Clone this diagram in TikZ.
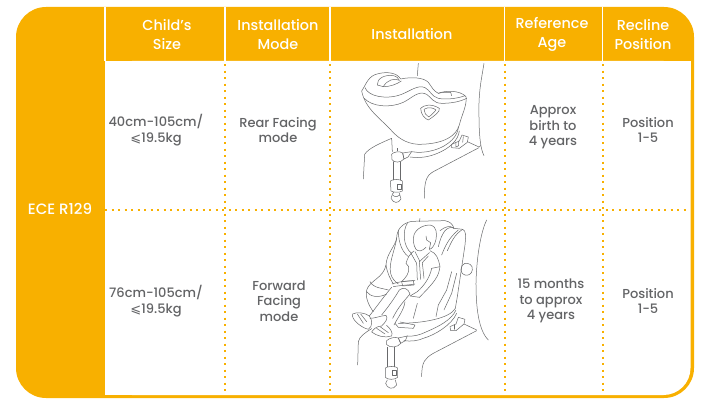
\documentclass[tikz,border=0pt]{standalone}
\usepackage{fontspec}
\setmainfont{Poppins}[UprightFont=* Medium]
\newfontfamily\symbfont{DejaVu Sans}
\definecolor{seatorange}{HTML}{F8B000}
\definecolor{textgrey}{HTML}{636466}
\definecolor{inkgrey}{HTML}{68696B}
\newcommand{\lessq}{{\symbfont\char"2A7D}}
\tikzset{
  headcell/.style={text=white, font=\fontsize{14.4}{19}\selectfont, align=center, inner sep=0pt},
  bodycell/.style={text=textgrey, font=\fontsize{13}{15.5}\selectfont, align=center, inner sep=0pt},
  griddot/.style={seatorange, line width=2pt, dash pattern=on 2pt off 4.5pt},
  gridwhite/.style={white, line width=1.4pt},
  ink/.style={inkgrey, line width=0.5pt, line join=round, line cap=round},
}

\begin{document}
\begin{tikzpicture}[x=1pt, y=-1pt]
\useasboundingbox (0,0) rectangle (706,412);
% panel
\fill[seatorange, rounded corners=30pt] (16,7) rectangle (694,398);
\fill[white, rounded corners=27pt] (105,61) -| (690.5,395) -- (105,395) -- cycle;
\fill[white] (105,61) rectangle (130,395);
\fill[white] (105,61) rectangle (690.5,90);

% header
\node[headcell] (size) at (167,34.5) {Child's\\Size};
\node[headcell] (mode) at (278,34.5) {Installation\\Mode};
\node[headcell] (inst) at (412,34) {Installation};
\node[headcell] (age) at (552,34.5) {Reference\\Age};
\node[headcell] (recline) at (643,34.5) {Recline\\Position};
\node[headcell, font=\fontsize{15}{16}\selectfont] (ece) at (60,209) {ECE R129};

% first row
\node[bodycell] (sizea) at (156,130) {40cm-105cm/\\\lessq19.5kg};
\node[bodycell] (modea) at (278,130) {Rear Facing\\mode};
\node[bodycell] (agea) at (553,127.5) {Approx\\birth to\\4 years};
\node[bodycell] (reca) at (648,130) {Position\\1-5};

% second row
\node[bodycell] (sizeb) at (156,301) {76cm-105cm/\\\lessq19.5kg};
\node[bodycell] (modeb) at (279,301) {Forward\\Facing\\mode};
\node[bodycell] (ageb) at (551,301) {15 months\\to approx\\4 years};
\node[bodycell] (recb) at (648,301) {Position\\1-5};

% grid
\draw[gridwhite] (105,7) -- (105,61);
\draw[gridwhite] (225,7) -- (225,61);
\draw[gridwhite] (330,7) -- (330,61);
\draw[gridwhite] (504.5,7) -- (504.5,61);
\draw[gridwhite] (602.5,7) -- (602.5,61);
\draw[griddot] (225,64) -- (225,395);
\draw[griddot] (330,64) -- (330,395);
\draw[griddot] (504.5,64) -- (504.5,395);
\draw[griddot] (602.5,64) -- (602.5,395);
\draw[griddot] (105,209.5) -- (690,209.5);

% rear facing seat
\begin{scope}[shift={(330,55)}, x=0.3333pt, y=-0.3333pt, ink]
\draw (265,25) -- (262,62);
\draw (462,25) .. controls (455,70) and (445,110) .. (447,180) .. controls (447,230) and (450,280) .. (462,302);
\draw (185,250) .. controls (150,265) and (115,280) .. (104,298) -- (100,372);
\draw (447,278) -- (310,350) .. controls (290,362) and (283,375) .. (283,430);
% shell
\draw (95,108) .. controls (110,85) and (115,62) .. (145,56) .. controls (170,50) and (200,52) .. (212,72) .. controls (240,66) and (280,66) .. (295,82) .. controls (305,95) and (310,108) .. (325,115) .. controls (345,106) and (390,105) .. (408,125) .. controls (412,150) and (395,180) .. (388,210) .. controls (380,240) and (345,268) .. (265,268) .. controls (225,266) and (200,245) .. (180,222) .. controls (150,190) and (105,160) .. (95,108) -- cycle;
\draw (105,98) .. controls (115,125) and (170,135) .. (215,118) .. controls (240,108) and (265,88) .. (285,98) .. controls (300,105) and (305,125) .. (325,130) .. controls (350,135) and (385,130) .. (405,122);
\draw (103,130) .. controls (125,155) and (180,160) .. (220,142) .. controls (245,130) and (265,105) .. (290,118) .. controls (305,128) and (310,145) .. (335,145) .. controls (365,145) and (390,140) .. (410,130);
\draw (142,90) .. controls (140,70) and (165,58) .. (190,62) .. controls (200,64) and (206,70) .. (208,76);
\draw (160,95) .. controls (170,75) and (195,68) .. (208,76);
\draw (142,90) -- (160,95) .. controls (180,95) and (200,88) .. (214,78);
\draw (325,115) .. controls (335,112) and (350,112) .. (362,112) -- (365,122);
% handle
\draw (272,160) .. controls (280,150) and (305,145) .. (328,160) .. controls (332,170) and (310,185) .. (295,195) .. controls (285,192) and (272,178) .. (272,160) -- cycle;
\draw (282,163) .. controls (295,155) and (310,158) .. (318,165) .. controls (310,175) and (302,182) .. (296,186) .. controls (288,182) and (282,172) .. (282,163) -- cycle;
% base
\draw (385,215) .. controls (385,240) and (360,272) .. (310,286) .. controls (290,292) and (265,294) .. (245,290);
\draw (388,228) .. controls (385,255) and (360,280) .. (320,296) .. controls (295,306) and (270,310) .. (240,306);
\draw (185,250) -- (187,290);
\draw (245,290) -- (234,306) -- (222,312) -- (218,294) -- (245,290);
\draw (185,298) .. controls (190,290) and (210,288) .. (218,294) -- (222,312) .. controls (212,324) and (192,324) .. (186,314) -- cycle;
\draw (203,288) -- (203,280);
% leg
\draw (189,320) -- (189,375);
\draw (211,320) -- (211,375);
\draw (181,378) .. controls (188,372) and (210,372) .. (217,378) -- (217,408) .. controls (208,414) and (188,412) .. (183,408) -- cycle;
\draw (203,388) -- (214,388) -- (214,402) -- (203,402) -- cycle;
\draw (191,412) -- (187,418) -- (183,430) .. controls (190,445) and (205,447) .. (213,432) -- (208,415);
\draw (188,420) .. controls (195,428) and (205,426) .. (210,420);
% latch
\draw (365,268) -- (388,258) -- (396,240) -- (415,246) -- (412,262) -- (388,280) -- (365,278) -- cycle;
\draw (378,262) -- (378,276) -- (386,272) -- (386,258);
\draw (400,245) -- (398,262);
\draw (412,260) -- (447,276) -- (452,272);
\end{scope}

% forward facing seat
\begin{scope}[shift={(330,210)}, x=0.3333pt, y=-0.3333pt, ink]
\draw (270,25) -- (268,35);
\draw (470,30) .. controls (455,60) and (440,130) .. (438,220) .. controls (438,290) and (445,360) .. (475,390);
\draw (125,356) .. controls (105,368) and (88,380) .. (85,395) -- (83,465);
\draw (440,362) -- (310,430) .. controls (285,445) and (275,455) .. (275,500);
% shell
\draw (130,305) .. controls (115,285) and (105,260) .. (110,240) .. controls (120,210) and (160,205) .. (168,165) .. controls (170,130) and (195,110) .. (200,85) .. controls (200,60) and (215,40) .. (245,34) -- (345,32) .. controls (360,35) and (368,42) .. (372,55) -- (398,58) .. controls (408,62) and (408,75) .. (405,105) -- (382,260) -- (376,295) .. controls (360,325) and (280,340) .. (205,340);
\draw (205,60) .. controls (205,85) and (210,120) .. (235,140);
\draw (232,40) .. controls (218,60) and (218,110) .. (245,130);
\draw (200,85) .. controls (195,120) and (175,160) .. (182,190) .. controls (185,205) and (195,215) .. (205,222);
\draw (168,165) .. controls (172,190) and (180,205) .. (190,222);
\draw (120,215) .. controls (130,235) and (160,235) .. (175,240);
\draw (110,245) .. controls (120,260) and (145,265) .. (170,252);
\draw (330,62) .. controls (345,50) and (360,45) .. (372,55);
\draw (325,110) .. controls (330,90) and (335,75) .. (345,62) .. controls (355,52) and (365,50) .. (372,55);
\draw (335,135) .. controls (345,110) and (355,85) .. (385,60);
\draw (352,122) .. controls (365,95) and (372,75) .. (398,58);
% side band
\draw (380,190) -- (365,250) -- (342,300);
\draw (365,185) -- (350,240) -- (325,285) -- (318,320);
\draw (262,280) -- (250,325);
% child head
\draw (252,75) .. controls (258,55) and (285,42) .. (305,46) .. controls (318,50) and (322,70) .. (318,88) .. controls (315,105) and (305,118) .. (298,118);
\draw (252,75) .. controls (248,90) and (250,105) .. (258,118) .. controls (265,125) and (275,125) .. (288,112);
\draw (288,78) -- (290,90) -- (302,98) -- (298,118);
% child torso
\draw (252,123) .. controls (240,130) and (232,145) .. (228,160);
\draw (300,122) .. controls (320,130) and (325,145) .. (330,170) -- (328,180);
\draw (228,160) -- (236,170) .. controls (240,190) and (225,205) .. (215,215);
\draw (330,170) -- (305,175);
\draw (243,130) -- (260,160) -- (262,210);
\draw (255,125) -- (270,155);
\draw (298,128) -- (268,155) -- (272,208);
\draw (295,138) -- (277,158) -- (282,205);
\draw (186,222) .. controls (205,215) and (235,212) .. (255,212);
\draw (190,230) .. controls (210,226) and (230,226) .. (255,222);
\draw (215,215) -- (250,212) -- (252,225) -- (218,228) -- cycle;
\draw (305,175) .. controls (300,200) and (285,225) .. (262,245);
\draw (328,180) .. controls (325,205) and (295,235) .. (268,262);
\draw (262,245) -- (240,258) -- (268,262);
% legs
\draw (185,232) .. controls (165,255) and (140,290) .. (118,318);
\draw (208,240) .. controls (190,270) and (175,290) .. (155,315);
\draw (240,252) .. controls (225,270) and (205,290) .. (188,325);
\draw (208,240) .. controls (220,230) and (235,235) .. (240,252);
\draw (225,275) .. controls (222,300) and (205,320) .. (192,345);
\draw (120,325) .. controls (135,325) and (150,318) .. (168,316) .. controls (175,325) and (168,335) .. (155,348);
% feet
\draw (118,318) .. controls (105,308) and (80,305) .. (68,312) .. controls (62,325) and (90,352) .. (115,358) .. controls (128,350) and (128,330) .. (118,318);
\draw (82,312) -- (100,340);
\draw (92,312) -- (110,335);
\draw (155,348) .. controls (140,348) and (130,358) .. (125,366) .. controls (140,378) and (165,385) .. (185,378) .. controls (190,368) and (180,355) .. (170,346);
\draw (140,355) -- (165,372);
\draw (150,350) -- (175,368);
% base
\draw (378,300) .. controls (365,330) and (325,350) .. (290,365) .. controls (270,375) and (250,380) .. (232,378);
\draw (380,310) .. controls (365,345) and (315,375) .. (280,385) .. controls (265,392) and (245,395) .. (222,392);
\draw (195,340) -- (205,352) -- (250,355) -- (255,345) -- (210,336);
\draw (232,378) -- (226,392) -- (212,400) -- (205,384) -- (232,378);
\draw (170,392) .. controls (178,384) and (195,380) .. (205,384) -- (212,400) .. controls (205,412) and (180,415) .. (170,404) -- cycle;
% leg
\draw (172,412) -- (172,470);
\draw (194,412) -- (194,470);
\draw (166,474) .. controls (172,468) and (198,468) .. (203,474) -- (203,502) .. controls (195,510) and (172,510) .. (166,502) -- cycle;
\draw (188,482) -- (200,482) -- (200,496) -- (188,496) -- cycle;
\draw (172,510) -- (167,520) .. controls (170,535) and (190,542) .. (200,525) -- (196,510);
% latch
\draw (360,350) -- (378,342) -- (385,322) -- (405,328) -- (402,342) -- (378,362) -- (362,362) -- cycle;
\draw (372,345) -- (372,358);
\draw (402,342) -- (440,360);
% knob
\draw (405,160) .. controls (415,158) and (430,165) .. (427,180) .. controls (425,192) and (415,198) .. (405,195);
\draw (405,160) .. controls (398,162) and (395,168) .. (393,178) -- (393,180) .. controls (395,190) and (400,195) .. (405,195);
\end{scope}
\end{tikzpicture}
\end{document}
